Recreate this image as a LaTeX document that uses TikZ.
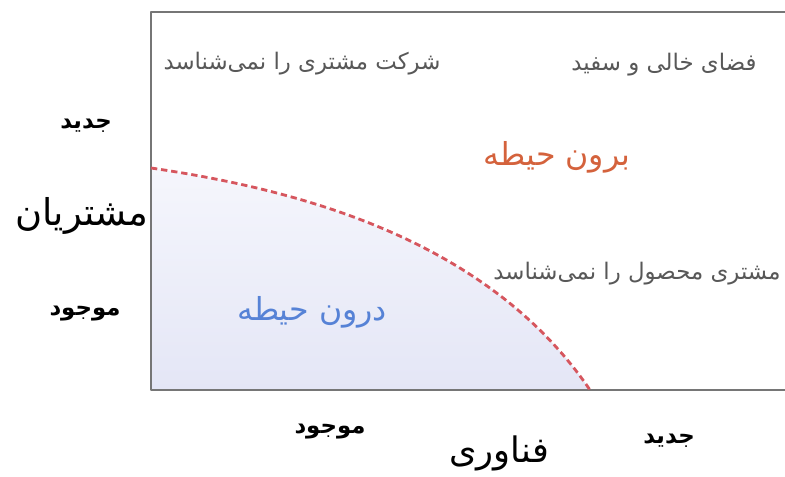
\documentclass[tikz,border=0pt]{standalone}
\usepackage{fontspec}
\newfontfamily\arabicfont[Script=Arabic]{DejaVu Sans}
\TeXXeTstate=1
\usetikzlibrary{calc, positioning}

\definecolor{framegray}{RGB}{118,118,118}
\definecolor{curvered}{RGB}{214,86,94}
\definecolor{outsideorange}{RGB}{212,98,60}
\definecolor{insideblue}{RGB}{86,130,214}
\definecolor{notegray}{RGB}{88,88,88}
\definecolor{tintlow}{RGB}{228,230,246}
\definecolor{tinthigh}{RGB}{245,246,252}

\tikzset{
  persian/.style={font=\arabicfont\fontsize{#1}{#1}\selectfont, inner sep=0pt, anchor=base},
  note/.style={persian=13, text=notegray},
  zonename/.style={persian=18},
  levellabel/.style={persian=13, text=black, font=\arabicfont\bfseries\fontsize{13}{13}\selectfont},
  axisname/.style={persian=21, text=black},
}

\begin{document}
\begin{tikzpicture}[x=0.02cm, y=-0.02cm, line join=round, line cap=round]
\def\boxleft{151}
\def\boxtop{12}
\def\boxbottom{390}
\def\boxright{785}

\useasboundingbox (0,0) rectangle (785,477);

% Corners of the open box
\coordinate (TL) at (\boxleft,\boxtop);
\coordinate (TR) at (\boxright,\boxtop);
\coordinate (BL) at (\boxleft,\boxbottom);
\coordinate (BR) at (\boxright,\boxbottom);

% Where the boundary meets the two sides
\coordinate (CurveStart) at (\boxleft,168);
\coordinate (CurveEnd) at (590,\boxbottom);

% Tinted inner zone
\shade[top color=tinthigh, bottom color=tintlow]
  (CurveStart) .. controls (301,190) and (488,240) .. (CurveEnd) -- (BL) -- cycle;

% Frame, open on the right
\draw[framegray, line width=0.9pt] (TR) -- (TL) -- (BL) -- (BR);

% Dashed boundary of the zone
\draw[curvered, line width=1.6pt, dash pattern=on 3.6pt off 2.2pt, line cap=butt]
  (CurveStart) .. controls (301,190) and (488,240) .. (CurveEnd);

% Notes inside the box
\node[note] (firmnote) at (302,69) {\beginR شرکت مشتری را نمی‌شناسد\endR};
\node[note] (spacenote) at (664,70) {\beginR فضای خالی و سفید\endR};
\node[note] (productnote) at (637,279) {\beginR مشتری محصول را نمی‌شناسد\endR};

% Zone names
\node[zonename, text=outsideorange] (outside) at (557,165) {\beginR برون حیطه\endR};
\node[zonename, text=insideblue] (inside) at (312,320) {\beginR درون حیطه\endR};

% Customer axis
\node[levellabel] (custnew) at (86,128) {\beginR جدید\endR};
\node[axisname] (customers) at (82,225) {\beginR مشتریان\endR};
\node[levellabel] (custold) at (85,315) {\beginR موجود\endR};

% Technology axis
\node[levellabel] (technew) at (669,443) {\beginR جدید\endR};
\node[levellabel] (techold) at (330,433) {\beginR موجود\endR};
\node[axisname, persian=20] (technology) at (499,462) {\beginR فناوری\endR};
\end{tikzpicture}
\end{document}
